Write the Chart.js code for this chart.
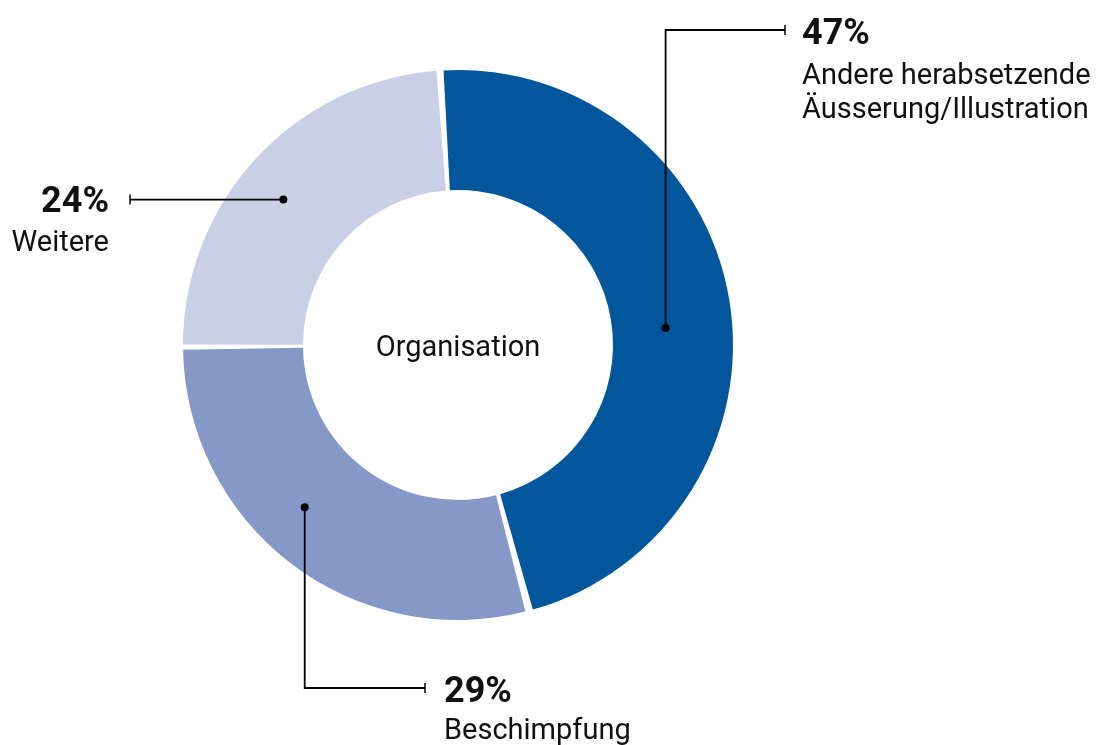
<!DOCTYPE html>
<html>
<head>
<meta charset="utf-8">
<script src="https://cdn.jsdelivr.net/npm/chart.js@4"></script>
<style>
  html, body { margin: 0; padding: 0; background: #ffffff; }
  #wrap { width: 1101px; height: 745px; position: relative; }
</style>
</head>
<body>
<div id="wrap"><canvas id="c" width="1101" height="745"></canvas></div>
<script>
// ---- Data ----
const categories = ['Andere herabsetzende Äusserung/Illustration', 'Beschimpfung', 'Weitere'];
const categoryLines = [['Andere herabsetzende', 'Äusserung/Illustration'], ['Beschimpfung'], ['Weitere']];
const values = [47, 29, 24];
const colors = ['#02569B', '#8698C8', '#C9CFE5'];
const centerTitle = 'Organisation';

// ---- Callout layout (styling only) ----
const callouts = [
  { index: 0, angleFrac: 0.528, radiusFrac: 0.465, route: 'up',   turnY: 30,  endX: 785, textX: 802, align: 'left',  pctY: 44,  lineY: [84, 118] },
  { index: 2, angleFrac: 0.465, radiusFrac: 0.623, route: 'left', endX: 130, textX: 109, align: 'right', pctY: 212, lineY: [251] },
  { index: 1, angleFrac: 0.557, radiusFrac: 0.59,  route: 'down', turnY: 688, endX: 425, textX: 444, align: 'left',  pctY: 702, lineY: [739] }
];

const FONT = 'Roboto, "Liberation Sans", sans-serif';

const calloutPlugin = {
  id: 'callouts',
  afterDraw(chart) {
    const ctx = chart.ctx;
    const meta = chart.getDatasetMeta(0);
    // center title
    const a0 = meta.data[0];
    ctx.save();
    ctx.fillStyle = '#111111';
    ctx.font = '400 29px ' + FONT;
    ctx.textAlign = 'center';
    ctx.textBaseline = 'alphabetic';
    ctx.fillText(centerTitle, a0.x, a0.y + 11);
    ctx.restore();

    callouts.forEach(c => {
      const el = meta.data[c.index];
      const p = el.getProps(['x', 'y', 'startAngle', 'endAngle', 'innerRadius', 'outerRadius'], true);
      const ang = p.startAngle + c.angleFrac * (p.endAngle - p.startAngle);
      const r = p.innerRadius + c.radiusFrac * (p.outerRadius - p.innerRadius);
      const dx = p.x + Math.cos(ang) * r;
      const dy = p.y + Math.sin(ang) * r;
      ctx.save();
      ctx.strokeStyle = '#000000';
      ctx.fillStyle = '#000000';
      ctx.lineWidth = 1.8;
      ctx.beginPath();
      ctx.moveTo(dx, dy);
      let ex, ey;
      if (c.route === 'up' || c.route === 'down') {
        ctx.lineTo(dx, c.turnY);
        ctx.lineTo(c.endX, c.turnY);
        ex = c.endX; ey = c.turnY;
      } else {
        ctx.lineTo(c.endX, dy);
        ex = c.endX; ey = dy;
      }
      ctx.stroke();
      // end tick
      ctx.lineWidth = 1.5;
      ctx.beginPath();
      ctx.moveTo(ex, ey - 5);
      ctx.lineTo(ex, ey + 5);
      ctx.stroke();
      // dot
      ctx.beginPath();
      ctx.arc(dx, dy, 4, 0, Math.PI * 2);
      ctx.fill();
      // texts
      ctx.fillStyle = '#111111';
      ctx.textAlign = c.align;
      ctx.textBaseline = 'alphabetic';
      ctx.font = '700 36px ' + FONT;
      ctx.fillText(values[c.index] + '%', c.textX, c.pctY);
      ctx.font = '400 29px ' + FONT;
      categoryLines[c.index].forEach((t, k) => ctx.fillText(t, c.textX, c.lineY[k]));
      ctx.restore();
    });
  }
};

const SPACING = 5;
new Chart(document.getElementById('c'), {
  type: 'doughnut',
  data: {
    labels: categories,
    datasets: [{
      data: values,
      backgroundColor: colors,
      borderWidth: 0,
      spacing: SPACING,
      hoverOffset: 0
    }]
  },
  options: {
    responsive: false,
    animation: false,
    devicePixelRatio: 1,
    rotation: -4,
    cutout: '55.96%',
    layout: { padding: { left: 183, right: 368, top: 70, bottom: 125 } },
    plugins: {
      legend: { display: false },
      tooltip: { enabled: false },
      title: { display: false }
    }
  },
  plugins: [calloutPlugin]
});
</script>
</body>
</html>
